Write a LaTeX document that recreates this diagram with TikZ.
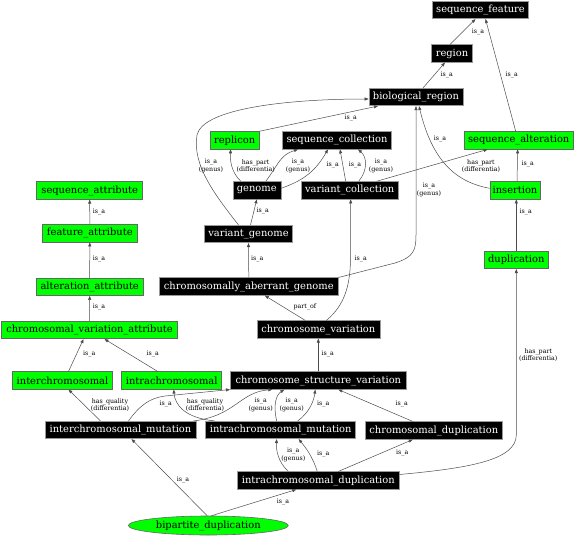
\documentclass[tikz,border=0pt]{standalone}
\usepackage{fontspec}
\setmainfont{DejaVu Serif}
\usetikzlibrary{arrows.meta,shapes.geometric}
\definecolor{mylime}{RGB}{0,255,0}
\begin{document}
\begin{tikzpicture}[x=1pt,y=-1pt,
 base/.style={font=\fontsize{9.9}{11}\selectfont, minimum height=17.5pt, inner xsep=1pt, inner ysep=0pt, line width=0.6pt},
 bk/.style={base, draw=black!40, fill=black, text=white},
 gr/.style={base, draw=black!60, fill=mylime, text=black},
 lbl/.style={font=\fontsize{6.3}{5.6}\selectfont, align=center, inner sep=0pt},
 edge/.style={draw=black!70, line width=0.5pt, -{Triangle[length=4pt,width=3pt]}}]
\useasboundingbox (0,0) rectangle (576,538);
% nodes
\node[bk, minimum width=96pt] (sf) at (480.5,10) {sequence\_feature};
\node[bk, minimum width=41pt] (region) at (452,53.5) {region};
\node[bk, minimum width=94pt] (br) at (416,97) {biological\_region};
\node[gr, minimum width=49pt] (replicon) at (234.7,140.3) {replicon};
\node[bk, minimum width=109pt] (sc) at (337,140.3) {sequence\_collection};
\node[gr, minimum width=109pt] (salt) at (518.7,140.3) {sequence\_alteration};
\node[bk, minimum width=48pt] (genome) at (256.8,190.3) {genome};
\node[bk, minimum width=97pt] (vc) at (349.7,190.3) {variant\_collection};
\node[gr, minimum width=50pt] (insertion) at (515,190.3) {insertion};
\node[bk, minimum width=88pt] (vg) at (248.5,234) {variant\_genome};
\node[bk, minimum width=179pt] (cag) at (248.8,286.5) {chromosomally\_aberrant\_genome};
\node[bk, minimum width=123pt] (cv) at (318.3,329.5) {chromosome\_variation};
\node[gr, minimum width=106pt] (sa) at (89.7,190.5) {sequence\_attribute};
\node[gr, minimum width=95pt] (fa) at (89.8,233.3) {feature\_attribute};
\node[gr, minimum width=107pt] (aa) at (89.7,286.8) {alteration\_attribute};
\node[gr, minimum width=176pt] (cva) at (89.5,330) {chromosomal\_variation\_attribute};
\node[gr, minimum width=64pt] (dup) at (516.3,260) {duplication};
\node[gr, minimum width=100pt] (interchr) at (62.5,380.5) {interchromosomal};
\node[gr, minimum width=100pt] (intrachr) at (171.7,380.5) {intrachromosomal};
\node[bk, minimum width=176pt] (csv) at (318.3,380.5) {chromosome\_structure\_variation};
\node[bk, minimum width=151pt] (icm) at (120.5,430) {interchromosomal\_mutation};
\node[bk, minimum width=150pt] (iam) at (280.7,430) {intrachromosomal\_mutation};
\node[bk, minimum width=137.5pt] (cdup) at (433.8,430.5) {chromosomal\_duplication};
\node[bk, minimum width=162pt] (idup) at (318.3,480.5) {intrachromosomal\_duplication};
\node[ellipse, draw=black!60, fill=mylime, line width=0.6pt, inner sep=0pt, minimum width=160pt, minimum height=19pt, font=\fontsize{9.9}{11}\selectfont] (bip) at (208.3,525.5) {bipartite\_duplication};
% edges
\draw[edge] ([xshift=-2pt]region.north) -- ([xshift=-5pt]sf.south);
\draw[edge] ([xshift=-3pt]salt.north) -- ([xshift=5pt]sf.south);
\draw[edge] ([xshift=7pt]br.north) -- ([xshift=-7pt]region.south);
\draw[edge] (replicon.north east) -- ([xshift=-38pt]br.south);
\draw[edge] ([xshift=-10pt]vg.north) .. controls (215,195) and (192,165) .. (197,135) .. controls (203,108) and (290,99) .. ([yshift=-2pt]br.west);
\draw[edge] ([xshift=-16pt]genome.north) .. controls (231,172) and (230,160) .. ([xshift=-4pt]replicon.south);
\draw[edge] ([xshift=9pt]genome.north) .. controls (278,165) and (280,155) .. ([xshift=-39pt]sc.south);
\draw[edge] ([yshift=2pt]genome.east) .. controls (305,180) and (316,170) .. ([xshift=-9pt]sc.south);
\draw[edge] ([xshift=-4pt]vc.north) -- ([xshift=3pt]sc.south);
\draw[edge] ([xshift=9pt]vc.north) .. controls (368,170) and (367,157) .. ([xshift=21pt]sc.south);
\draw[edge] ([xshift=27pt]vc.north) -- ([xshift=-31pt]salt.south);
\draw[edge] ([yshift=2pt]insertion.west) .. controls (455,182) and (432,160) .. ([xshift=3pt]br.south);
\draw[edge] ([xshift=2pt]insertion.north) -- ([xshift=-1pt]salt.south);
\draw[edge] (cag.north east) -- (395,263) .. controls (414,257) and (416,250) .. (416,235) -- (br.south);
\draw[edge] ([xshift=2pt]vg.north) -- (genome.south);
\draw[edge] (cag.north) -- (vg.south);
\draw[edge] ([xshift=-13pt]cv.north) -- ([xshift=16pt]cag.south);
\draw[edge] ([xshift=8pt]cv.north) .. controls (345,305) and (350,285) .. (350.5,260) -- ([xshift=1pt]vc.south);
\draw[edge] (fa.north) -- (sa.south);
\draw[edge] (aa.north) -- (fa.south);
\draw[edge] (cva.north) -- (aa.south);
\draw[edge] ([xshift=6pt]interchr.north) -- ([xshift=-6pt]cva.south);
\draw[edge] ([xshift=-14pt]intrachr.north) -- ([xshift=15pt]cva.south);
\draw[edge] (csv.north) -- (cv.south);
\draw[edge] (dup.north) -- ([xshift=1.3pt]insertion.south);
\draw[edge] ([xshift=-20pt]icm.north) -- ([xshift=6pt]interchr.south);
\draw[edge] ([xshift=8pt]icm.north) .. controls (140,405) and (150,398) .. (165,396) -- (csv.south west);
\draw[edge] ([xshift=-66pt]iam.north) .. controls (185,418) and (175,405) .. ([xshift=2pt]intrachr.south);
\draw[edge] ([xshift=73pt]icm.north) .. controls (235,416) and (240,392) .. ([xshift=-46pt]csv.south);
\draw[edge] ([xshift=-4pt]iam.north) .. controls (273,405) and (276,395) .. ([xshift=-34pt]csv.south);
\draw[edge] ([xshift=17pt]iam.north) .. controls (310,412) and (314,400) .. ([xshift=-3pt]csv.south);
\draw[edge] ([xshift=-21pt]cdup.north) -- ([xshift=20pt]csv.south);
\draw[edge] ([xshift=-30pt]idup.north) .. controls (278,462) and (276,450) .. ([xshift=-4pt]iam.south);
\draw[edge] ([xshift=-1pt]idup.north) .. controls (312,455) and (305,447) .. ([xshift=18pt]iam.south);
\draw[edge] ([xshift=20pt]idup.north) -- ([xshift=-21pt]cdup.south);
\draw[edge] ([yshift=6pt]idup.east) .. controls (470,468) and (516,460) .. (516.3,435) -- (dup.south);
\draw[edge] (bip.97) -- ([xshift=11pt]icm.south);
\draw[edge] (bip.72) -- ([xshift=-22pt]idup.south);
% labels
\node[lbl] (l1) at (478,32) {is\_a};
\node[lbl] (l2) at (511.7,75) {is\_a};
\node[lbl] (l3) at (446.7,75) {is\_a};
\node[lbl] (l4) at (350.7,118) {is\_a};
\node[lbl] (l5) at (211,166) {is\_a\\(genus)};
\node[lbl] (l6) at (255.7,166) {has\_part\\(differentia)};
\node[lbl] (l7) at (298,166) {is\_a\\(genus)};
\node[lbl] (l8) at (332.7,165) {is\_a};
\node[lbl] (l9) at (355,165) {is\_a};
\node[lbl] (l10) at (381,166) {is\_a\\(genus)};
\node[lbl] (l11) at (481,166) {has\_part\\(differentia)};
\node[lbl] (l12) at (440,139) {is\_a};
\node[lbl] (l13) at (527.7,164.3) {is\_a};
\node[lbl] (l14) at (429,190) {is\_a\\(genus)};
\node[lbl] (l15) at (262.7,211) {is\_a};
\node[lbl] (l16) at (257.3,259) {is\_a};
\node[lbl] (l17) at (305,307) {part\_of};
\node[lbl] (l18) at (360.7,259) {is\_a};
\node[lbl] (l19) at (99,211.7) {is\_a};
\node[lbl] (l20) at (99,259.3) {is\_a};
\node[lbl] (l21) at (99,307.3) {is\_a};
\node[lbl] (l22) at (89.3,354.3) {is\_a};
\node[lbl] (l23) at (152.7,354.3) {is\_a};
\node[lbl] (l24) at (327.7,354.3) {is\_a};
\node[lbl] (l25) at (525.7,211.7) {is\_a};
\node[lbl] (l26) at (110,405) {has\_quality\\(differentia)};
\node[lbl] (l27) at (165.7,404) {is\_a};
\node[lbl] (l28) at (205,405) {has\_quality\\(differentia)};
\node[lbl] (l29) at (260.7,405) {is\_a\\(genus)};
\node[lbl] (l30) at (291.7,405) {is\_a\\(genus)};
\node[lbl] (l31) at (323.3,404) {is\_a};
\node[lbl] (l32) at (401.7,404) {is\_a};
\node[lbl] (l33) at (293.3,455) {is\_a\\(genus)};
\node[lbl] (l34) at (323.3,454) {is\_a};
\node[lbl] (l35) at (402.3,453.3) {is\_a};
\node[lbl] (l36) at (538.3,355) {has\_part\\(differentia)};
\node[lbl] (l37) at (183,480) {is\_a};
\node[lbl] (l38) at (283,501.7) {is\_a};
\end{tikzpicture}
\end{document}
